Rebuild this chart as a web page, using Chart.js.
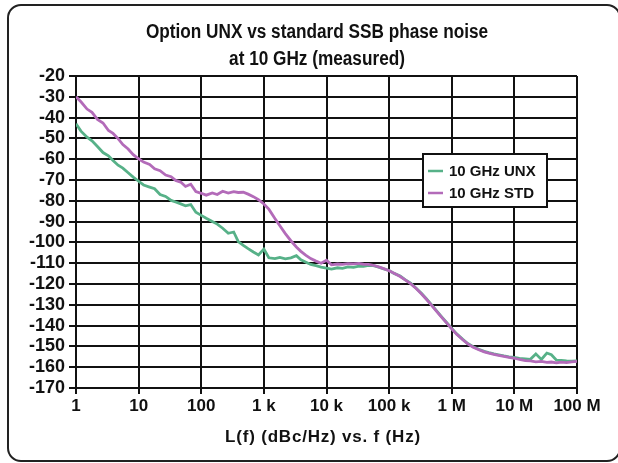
<!DOCTYPE html>
<html lang="en">

<head>
    <meta charset="UTF-8">
    <title>Phase noise</title>
    <script src="https://cdn.jsdelivr.net/npm/chart.js"></script>
    <style>
        html, body { margin: 0; padding: 0; background: #fff; overflow: hidden; }
        .moldura {
            position: absolute; left: 7px; top: 4px; width: 614px; height: 458px;
            box-sizing: border-box; border: 2px solid #222; border-radius: 14px;
            pointer-events: none;
        }
        .grafico { position: absolute; left: 0; top: 0; width: 618px; height: 463px; }
    </style>
</head>

<body>
    <div class="grafico">
        <canvas id="grafico_ruido" width="618" height="463"></canvas>
    </div>
    <div class="moldura"></div>
</body>

<script>

// dados (frequencia em Hz, ruido em dBc/Hz)
var freqHz = [
    1, 1.2, 1.5, 1.8, 2.2, 2.7, 3.3, 3.9, 4.7, 5.6, 6.8, 8.2,
    10, 12, 15, 18, 22, 27, 33, 39, 47, 56, 68, 82,
    100, 120, 150, 180, 220, 270, 330, 390, 470, 560, 680, 820,
    1e3, 1.2e3, 1.5e3, 1.8e3, 2.2e3, 2.7e3, 3.3e3, 3.9e3, 4.7e3, 5.6e3, 6.8e3, 8.2e3,
    1e4, 1.2e4, 1.5e4, 1.8e4, 2.2e4, 2.7e4, 3.3e4, 3.9e4, 4.7e4, 5.6e4, 6.8e4, 8.2e4,
    1e5, 1.2e5, 1.5e5, 1.8e5, 2.2e5, 2.7e5, 3.3e5, 3.9e5, 4.7e5, 5.6e5, 6.8e5, 8.2e5,
    1e6, 1.2e6, 1.5e6, 1.8e6, 2.2e6, 2.7e6, 3.3e6, 3.9e6, 4.7e6, 5.6e6, 6.8e6, 8.2e6,
    1e7, 1.2e7, 1.5e7, 1.8e7, 2.2e7, 2.7e7, 3.3e7, 3.9e7, 4.7e7, 5.6e7, 6.8e7, 8.2e7,
    1e8
];

var unxDbc = [
    -43.0, -46.5, -49.4, -51.2, -53.9, -56.8, -58.4, -60.6, -62.9, -64.3, -66.5, -68.6,
    -70.6, -72.4, -73.4, -74.2, -77.0, -77.9, -79.8, -80.6, -81.5, -82.4, -81.8, -85.5,
    -87.0, -88.4, -90.0, -91.2, -93.2, -95.6, -95.0, -99.6, -101.4, -103.0, -104.6, -106.0,
    -103.2, -107.4, -107.8, -107.2, -107.9, -107.4, -106.4, -108.4, -109.5, -110.6, -111.2, -111.9,
    -112.4, -112.8, -112.2, -112.5, -111.8, -112.0, -111.4, -111.5, -111.0, -111.2, -111.9, -112.7,
    -113.5, -114.9, -116.2, -117.9, -119.6, -122.0, -124.6, -127.0, -129.8, -132.6, -135.6, -138.4,
    -141.4, -144.0, -146.6, -148.6, -150.2, -151.4, -152.4, -153.0, -153.6, -154.1, -154.6, -155.0,
    -155.3, -155.8, -156.0, -156.2, -153.6, -156.3, -153.2, -154.0, -156.6, -156.7, -157.0, -157.1,
    -157.0
];

var stdDbc = [
    -30.0, -32.4, -35.9, -37.5, -40.9, -42.6, -46.2, -47.6, -50.1, -53.0, -55.1, -57.8,
    -59.8, -61.4, -62.5, -64.6, -65.5, -67.6, -68.4, -70.2, -71.0, -73.1, -72.0, -75.6,
    -76.4, -77.3, -76.2, -77.0, -75.4, -76.3, -75.6, -76.0, -75.9, -76.8, -78.0, -79.5,
    -81.5, -84.0, -88.5, -92.0, -95.8, -99.2, -102.2, -104.3, -106.2, -107.8, -109.0, -110.0,
    -108.6, -110.8, -110.4, -110.6, -110.2, -110.3, -110.1, -110.5, -110.6, -111.0, -111.8, -112.6,
    -113.6, -114.8, -116.4, -118.0, -119.8, -122.2, -124.8, -127.2, -130.0, -132.8, -135.8, -138.6,
    -141.6, -144.2, -146.8, -148.8, -150.4, -151.6, -152.6, -153.2, -153.8, -154.3, -154.8, -155.3,
    -155.7, -156.3, -156.8, -157.0, -157.4, -157.2, -157.7, -157.5, -157.9, -157.6, -157.8, -157.4,
    -157.2
];

var nomesSeries = ['10 GHz UNX', '10 GHz STD'];
var xTicks = [1, 10, 100, 1e3, 1e4, 1e5, 1e6, 1e7, 1e8];
var xTickLabels = ['1', '10', '100', '1 k', '10 k', '100 k', '1 M', '10 M', '100 M'];
var tituloLinhas = ['Option UNX vs standard SSB phase noise', 'at 10 GHz (measured)'];
var tituloEixoX = 'L(f) (dBc/Hz) vs. f (Hz)';

var corUnx = '#57b188';
var corStd = '#b36bb9';

function pontos(valores) {
    return freqHz.map(function (f, i) { return { x: f, y: valores[i] }; });
}

// titulo (fonte condensada na mao), titulo do eixo e legenda em caixa
var textosExtras = {
    id: 'textosExtras',
    afterDraw: function (chart) {
        var ctx = chart.ctx;
        ctx.save();
        ctx.fillStyle = '#111';
        ctx.textAlign = 'center';
        ctx.textBaseline = 'middle';

        ctx.save();
        ctx.translate(317, 0);
        ctx.scale(0.86, 1);
        ctx.font = 'bold 20px "Liberation Sans", Arial, sans-serif';
        ctx.fillText(tituloLinhas[0], 0, 32);
        ctx.fillText(tituloLinhas[1], 0, 59);
        ctx.restore();

        ctx.font = 'bold 17px "Liberation Sans", Arial, sans-serif';
        ctx.letterSpacing = '0.8px';
        ctx.fillText(tituloEixoX, 323, 437);
        ctx.letterSpacing = '0px';

        // legenda
        var lx = 423, ly = 154, lw = 124, lh = 53;
        ctx.fillStyle = '#fff';
        ctx.fillRect(lx, ly, lw, lh);
        ctx.strokeStyle = '#111';
        ctx.lineWidth = 2;
        ctx.strokeRect(lx, ly, lw, lh);

        ctx.font = 'bold 15px "Liberation Sans", Arial, sans-serif';
        ctx.textAlign = 'left';
        var cores = [corUnx, corStd];
        var ys = [171, 193];
        for (var i = 0; i < nomesSeries.length; i++) {
            ctx.strokeStyle = cores[i];
            ctx.lineWidth = 2.5;
            ctx.beginPath();
            ctx.moveTo(428, ys[i]);
            ctx.lineTo(443, ys[i]);
            ctx.stroke();
            ctx.fillStyle = '#111';
            ctx.fillText(nomesSeries[i], 449, ys[i] + 1);
        }
        ctx.restore();
    }
};

var config_ruido = {
    type: 'line',
    data: {
        datasets: [
            {
                label: nomesSeries[0],
                data: pontos(unxDbc),
                borderColor: corUnx,
                backgroundColor: corUnx,
                borderWidth: 2.8,
                pointRadius: 0,
                tension: 0,
                order: 1
            },
            {
                label: nomesSeries[1],
                data: pontos(stdDbc),
                borderColor: corStd,
                backgroundColor: corStd,
                borderWidth: 2.8,
                pointRadius: 0,
                tension: 0,
                order: 0
            }
        ]
    },
    options: {
        responsive: false,
        animation: false,
        layout: { padding: { left: 0, right: 41, top: 76, bottom: 0 } },
        plugins: {
            legend: { display: false },
            title: { display: false },
            tooltip: { enabled: false }
        },
        scales: {
            x: {
                type: 'logarithmic',
                min: 1,
                max: 1e8,
                afterBuildTicks: function (scale) {
                    scale.ticks = xTicks.map(function (v) { return { value: v }; });
                },
                afterFit: function (scale) { scale.height = 75; },
                grid: { color: '#111', lineWidth: 2, tickLength: 6 },
                border: { color: '#111', width: 2 },
                ticks: {
                    autoSkip: false,
                    maxRotation: 0,
                    padding: 2,
                    color: '#111',
                    font: { family: '"Liberation Sans", Arial, sans-serif', size: 17, weight: 'bold' },
                    callback: function (v) {
                        var i = xTicks.indexOf(v);
                        return i >= 0 ? xTickLabels[i] : '';
                    }
                }
            },
            y: {
                min: -170,
                max: -20,
                afterFit: function (scale) { scale.width = 76; },
                grid: { color: '#111', lineWidth: 2, tickLength: 7 },
                border: { color: '#111', width: 2 },
                ticks: {
                    stepSize: 10,
                    autoSkip: false,
                    padding: 4,
                    color: '#111',
                    font: { family: '"Liberation Sans", Arial, sans-serif', size: 18, weight: 'bold' },
                    callback: function (v) { return String(v); }
                }
            }
        }
    },
    plugins: [textosExtras]
};

var GraficoRuido = new Chart(document.getElementById('grafico_ruido'), config_ruido);

</script>

</html>
